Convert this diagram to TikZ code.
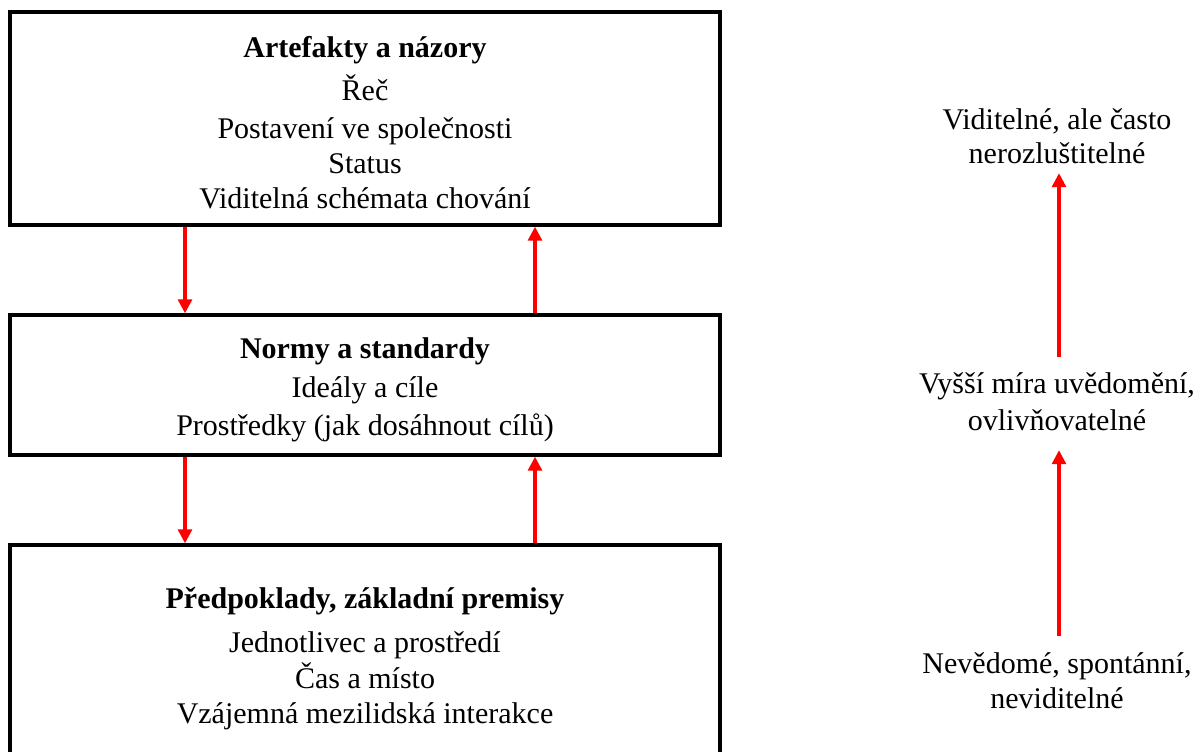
\documentclass[tikz,border=0pt]{standalone}
\usepackage{fontspec}
\setmainfont{Liberation Serif}
\usetikzlibrary{arrows.meta}
\begin{document}
\begin{tikzpicture}[x=0.75pt,y=-0.75pt,
  box/.style={draw=black, line width=2.6pt, minimum width=532.5pt, inner sep=0pt},
  txt/.style={anchor=base, inner sep=0pt, font=\fontsize{22.5}{26.25}\selectfont},
  ttl/.style={anchor=base, inner sep=0pt, font=\fontsize{22.5}{26.25}\selectfont\bfseries},
  lbl/.style={txt, text height=16.875pt, text depth=4.95pt},
  arr/.style={draw=red, line width=2.3pt, -{Triangle[length=10.5pt,width=10.5pt]}}
]
\clip (0,0) rectangle (1200,751);
\fill[white] (0,0) rectangle (1200,751);
% boxes
\node[box, minimum height=159.75pt] (b1) at (365,118.5) {};
\node[box, minimum height=105pt] (b2) at (365,385) {};
\node[box, minimum height=225pt] (b3) at (365,695) {};
% box 1 text
\node[ttl] (t1) at (365,57) {Artefakty a názory};
\node[txt] (t1a) at (365,100) {Řeč};
\node[txt] (t1b) at (365,138) {Postavení ve společnosti};
\node[txt] (t1c) at (365,173) {Status};
\node[txt] (t1d) at (365,208) {Viditelná schémata chování};
% box 2 text
\node[ttl] (t2) at (365,358) {Normy a standardy};
\node[txt] (t2a) at (365,397) {Ideály a cíle};
\node[txt] (t2b) at (365,435) {Prostředky (jak dosáhnout cílů)};
% box 3 text
\node[ttl] (t3) at (365,608) {Předpoklady, základní premisy};
\node[txt] (t3a) at (365,652) {Jednotlivec a prostředí};
\node[txt] (t3b) at (365,688) {Čas a místo};
\node[txt] (t3c) at (365,723) {Vzájemná mezilidská interakce};
% right column
\node[lbl] (r1a) at (1057,129) {Viditelné, ale často};
\node[lbl] (r1b) at (1057,163) {nerozluštitelné};
\node[lbl] (r2a) at (1057,393) {Vyšší míra uvědomění,};
\node[lbl] (r2b) at (1057,430) {ovlivňovatelné};
\node[lbl] (r3a) at (1057,673) {Nevědomé, spontánní,};
\node[lbl] (r3b) at (1057,708) {neviditelné};
% arrows between boxes
\draw[arr] ([xshift=-135pt]b1.south) -- ([xshift=-135pt]b2.north);
\draw[arr] ([xshift=127.5pt]b2.north) -- ([xshift=127.5pt]b1.south);
\draw[arr] ([xshift=-135pt]b2.south) -- ([xshift=-135pt]b3.north);
\draw[arr] ([xshift=127.5pt]b3.north) -- ([xshift=127.5pt]b2.south);
% right arrows
\draw[arr, shorten <=10.9pt, shorten >=10pt] ([xshift=1.5pt]r3a.north) -- ([xshift=1.5pt]r2b.south);
\draw[arr, shorten <=10.1pt, shorten >=2.5pt] ([xshift=1.5pt]r2a.north) -- ([xshift=1.5pt]r1b.south);
\end{tikzpicture}
\end{document}
